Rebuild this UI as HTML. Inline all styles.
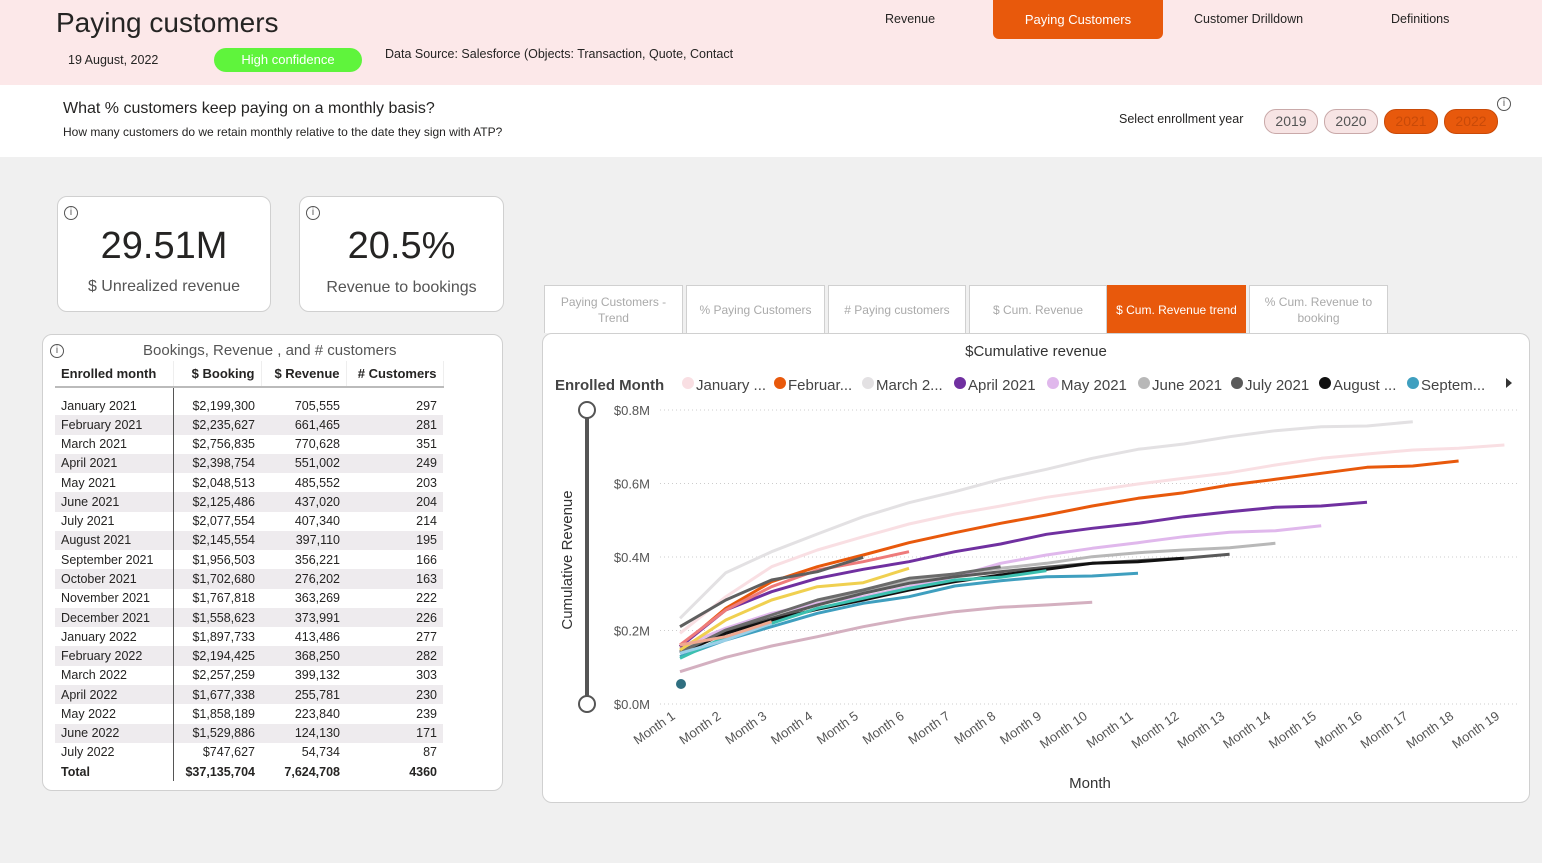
<!DOCTYPE html>
<html><head><meta charset="utf-8"><style>
*{box-sizing:border-box;margin:0;padding:0}
body{width:1542px;height:863px;background:#f0f0f0;font-family:"Liberation Sans",sans-serif;position:relative;overflow:hidden;color:#252423}
.a{position:absolute;white-space:nowrap}
.card{position:absolute;background:#fff;border:1px solid #d0d0d0;border-radius:10px}
.info{position:absolute;width:14px;height:14px;border:1px solid #555;border-radius:50%;font-size:10px;text-align:center;line-height:12px;color:#555}
.yr{position:absolute;top:109px;width:54px;height:25px;border-radius:12px;border:1px solid #c9a9a9;background:#f7e4e4;font-size:14px;text-align:center;line-height:23px;color:#555}
.yr.on{background:#e8590c;border-color:#c94a08;color:#c94a08}
.tab{position:absolute;top:285px;height:48px;background:#fff;border:1px solid #d0d0d0;border-bottom:none;font-size:12px;color:#aaa;text-align:center;display:flex;align-items:center;justify-content:center;line-height:16px}
table{position:absolute;left:55px;top:361px;border-collapse:collapse;font-size:12.5px}
td{height:19.27px;padding:0 6px;text-align:right}
td:first-child{text-align:left;border-right:1px solid #555;width:118px}
td:nth-child(2){width:88px}td:nth-child(3){width:85px}td:nth-child(4){width:97px}
tr.h td{font-weight:bold;font-size:13px;height:26px;border-bottom:2px solid #bbb;border-right:1px solid #eee}
tr.h td:first-child{text-align:left}
tr.sp td{height:9px;border-right:none}
tr.sp td:first-child{border-right:1px solid #555}
tr.d td{background:#eeebee}
tr.t td{font-weight:bold}
</style></head><body>
<div class="a" style="left:0;top:0;width:1542px;height:85px;background:#fce8e9"></div>
<div class="a" style="left:0;top:85px;width:1542px;height:72px;background:#fff"></div>
<div class="a" style="left:56px;top:7px;font-size:28px;color:#252423">Paying customers</div>
<div class="a" style="left:68px;top:53px;font-size:12.5px">19 August, 2022</div>
<div class="a" style="left:214px;top:48px;width:148px;height:24px;border-radius:12px;background:#5ff43c;color:#fff;font-size:13px;text-align:center;line-height:24px">High confidence</div>
<div class="a" style="left:385px;top:47px;font-size:12.5px">Data Source: Salesforce (Objects: Transaction, Quote, Contact</div>
<div class="a" style="left:885px;top:12px;font-size:12.5px">Revenue</div>
<div class="a" style="left:993px;top:0;width:170px;height:39px;background:#e8590c;border-radius:0 0 6px 6px;color:#fff;font-size:13px;text-align:center;line-height:39px">Paying Customers</div>
<div class="a" style="left:1194px;top:12px;font-size:12.5px">Customer Drilldown</div>
<div class="a" style="left:1391px;top:12px;font-size:12.5px">Definitions</div>
<div class="a" style="left:63px;top:100px;font-size:16px">What % customers keep paying on a monthly basis?</div>
<div class="a" style="left:63px;top:125px;font-size:12px">How many customers do we retain monthly relative to the date they sign with ATP?</div>
<div class="a" style="left:1119px;top:112px;font-size:12.5px">Select enrollment year</div>
<div class="yr" style="left:1264px">2019</div><div class="yr" style="left:1324px">2020</div>
<div class="yr on" style="left:1384px">2021</div><div class="yr on" style="left:1444px">2022</div>
<div class="info" style="left:1497px;top:97px">i</div>

<div class="card" style="left:57px;top:196px;width:214px;height:116px"><div class="info" style="left:6px;top:9px">i</div>
<div class="a" style="left:0;width:212px;text-align:center;top:28px;font-size:38px;color:#252423">29.51M</div>
<div class="a" style="left:0;width:212px;text-align:center;top:81px;font-size:16px;color:#555">$ Unrealized revenue</div></div>
<div class="card" style="left:299px;top:196px;width:205px;height:116px"><div class="info" style="left:6px;top:9px">i</div>
<div class="a" style="left:0;width:203px;text-align:center;top:28px;font-size:38px;color:#252423">20.5%</div>
<div class="a" style="left:0;width:203px;text-align:center;top:82px;font-size:16px;color:#555">Revenue to bookings</div></div>

<div class="card" style="left:42px;top:334px;width:461px;height:457px"><div class="info" style="left:7px;top:9px">i</div>
<div class="a" style="left:100px;top:7px;font-size:15px;color:#555">Bookings, Revenue , and # customers</div></div>
<table>
<tr class="h"><td>Enrolled month</td><td style="text-align:right">$ Booking</td><td>$ Revenue</td><td>#&nbsp;Customers</td></tr>
<tr class="sp"><td></td><td></td><td></td><td></td></tr>
<tr><td>January 2021</td><td>$2,199,300</td><td>705,555</td><td>297</td></tr>
<tr class="d"><td>February 2021</td><td>$2,235,627</td><td>661,465</td><td>281</td></tr>
<tr><td>March 2021</td><td>$2,756,835</td><td>770,628</td><td>351</td></tr>
<tr class="d"><td>April 2021</td><td>$2,398,754</td><td>551,002</td><td>249</td></tr>
<tr><td>May 2021</td><td>$2,048,513</td><td>485,552</td><td>203</td></tr>
<tr class="d"><td>June 2021</td><td>$2,125,486</td><td>437,020</td><td>204</td></tr>
<tr><td>July 2021</td><td>$2,077,554</td><td>407,340</td><td>214</td></tr>
<tr class="d"><td>August 2021</td><td>$2,145,554</td><td>397,110</td><td>195</td></tr>
<tr><td>September 2021</td><td>$1,956,503</td><td>356,221</td><td>166</td></tr>
<tr class="d"><td>October 2021</td><td>$1,702,680</td><td>276,202</td><td>163</td></tr>
<tr><td>November 2021</td><td>$1,767,818</td><td>363,269</td><td>222</td></tr>
<tr class="d"><td>December 2021</td><td>$1,558,623</td><td>373,991</td><td>226</td></tr>
<tr><td>January 2022</td><td>$1,897,733</td><td>413,486</td><td>277</td></tr>
<tr class="d"><td>February 2022</td><td>$2,194,425</td><td>368,250</td><td>282</td></tr>
<tr><td>March 2022</td><td>$2,257,259</td><td>399,132</td><td>303</td></tr>
<tr class="d"><td>April 2022</td><td>$1,677,338</td><td>255,781</td><td>230</td></tr>
<tr><td>May 2022</td><td>$1,858,189</td><td>223,840</td><td>239</td></tr>
<tr class="d"><td>June 2022</td><td>$1,529,886</td><td>124,130</td><td>171</td></tr>
<tr><td>July 2022</td><td>$747,627</td><td>54,734</td><td>87</td></tr>
<tr class="t"><td>Total</td><td>$37,135,704</td><td>7,624,708</td><td>4360</td></tr>
</table>

<div class="tab" style="left:544px;width:139px">Paying Customers -<br>Trend</div>
<div class="tab" style="left:686px;width:139px">% Paying Customers</div>
<div class="tab" style="left:828px;width:138px">#&nbsp;Paying customers</div>
<div class="tab" style="left:969px;width:138px">$ Cum. Revenue</div>
<div class="tab" style="left:1107px;width:139px;background:#e8590c;color:#fff;border-color:#e8590c">$ Cum. Revenue trend</div>
<div class="tab" style="left:1249px;width:139px">% Cum. Revenue to<br>booking</div>

<div class="card" style="left:542px;top:333px;width:988px;height:470px"></div>
<svg class="a" style="left:0;top:0" width="1542" height="863" id="s" font-family="Liberation Sans, sans-serif">
<text x="1036" y="356" text-anchor="middle" font-size="15" fill="#333">$Cumulative revenue</text>
<text x="555" y="390" font-size="15" font-weight="bold" fill="#444">Enrolled Month</text>
<text x="572" y="560" font-size="15" fill="#333" transform="rotate(-90 572 560)" text-anchor="middle">Cumulative Revenue</text>
<text x="1090" y="788" text-anchor="middle" font-size="15" fill="#333">Month</text>
<line x1="587" y1="410" x2="587" y2="704" stroke="#555" stroke-width="4"/>
<circle cx="587" cy="410" r="8" fill="#fff" stroke="#555" stroke-width="2"/>
<circle cx="587" cy="704" r="8" fill="#fff" stroke="#555" stroke-width="2"/>
<path d="M1506 378 L1512 383 L1506 388Z" fill="#333"/>
</svg>
<script>
var s=document.getElementById('s'),NS='http://www.w3.org/2000/svg';
function el(t,a,txt){var e=document.createElementNS(NS,t);for(var k in a)e.setAttribute(k,a[k]);if(txt)e.textContent=txt;s.appendChild(e);return e;}
var ys=[[410,'$0.8M'],[483.5,'$0.6M'],[557,'$0.4M'],[630.5,'$0.2M'],[704,'$0.0M']];
ys.forEach(function(y){el('line',{x1:660,x2:1520,y1:y[0],y2:y[0],stroke:'#ccc','stroke-dasharray':'1 3'});el('text',{x:650,y:y[0]+5,'text-anchor':'end','font-size':13,fill:'#555'},y[1]);});
for(var m=1;m<=19;m++){var x=680+(m-1)*45.8;el('text',{x:x-4,y:718,'text-anchor':'end','font-size':13,fill:'#555',transform:'rotate(-35 '+(x-4)+' 718)'},'Month '+m);}
var L=[['January ...','#f9dfe3',681],['Februar...','#e8590c',773],['March 2...','#e3e1e3',861],['April 2021','#7030a0',953],['May 2021','#e0b8ec',1046],['June 2021','#b8b8b8',1137],['July 2021','#5a5a5a',1230],['August ...','#111',1318],['Septem...','#3f9fbf',1406]];
L.forEach(function(l){el('circle',{cx:l[2]+7,cy:383,r:6,fill:l[1]});el('text',{x:l[2]+15,y:390,'font-size':15,fill:'#444'},l[0]);});
var S=[
['#e3e1e3',[745,608,545,492,440,398,365,328,298,265,238,222,200,182,170,168,155]],
['#f9dfe3',[790,680,590,540,500,462,432,408,382,362,342,325,308,285,265,252,240,235,225]],
['#d4b0c0',[905,862,828,800,770,745,725,712,705,697]],
['#b8b8b8',[835,790,745,700,665,632,612,595,580,560,548,540,533,520]],
['#e0b8ec',[830,775,730,700,680,650,620,580,555,535,518,500,487,482,467]],
['#5a5a5a',[845,785,745,705,670,640,620,605,592,580,572,565,553]],
['#111',[850,790,750,718,690,660,635,615,598,580,575,565]],
['#3f9fbf',[860,810,770,730,700,680,648,632,620,618,610]],
['#3cc0b0',[865,800,760,715,685,655,630,622,602]],
['#6b6b6b',[848,780,735,690,660,625,612,590]],
['#e8590c',[830,715,635,590,555,518,488,460,435,408,385,368,345,328,310,292,288,273]],
['#7030a0',[830,720,665,625,598,575,545,522,493,475,460,440,425,412,408,397]],
['#f0d050',[840,750,690,650,638,595]],
['#ee7b7b',[825,720,650,600,575,545]],
['#5f5f5f',[770,690,630,605,562]],
['#9ad0e8',[850,810,760]],
['#f0a890',[825,800,755]]
];
S.forEach(function(a){var d='';a[1].forEach(function(zy,i){d+=(i?'L':'M')+(680+i*45.8).toFixed(1)+' '+(370+zy/3).toFixed(1);});el('path',{d:d,fill:'none',stroke:a[0],'stroke-width':3,'stroke-linejoin':'round'});});
el('circle',{cx:681,cy:684,r:5,fill:'#2f6f80'});
</script>
</body></html>
